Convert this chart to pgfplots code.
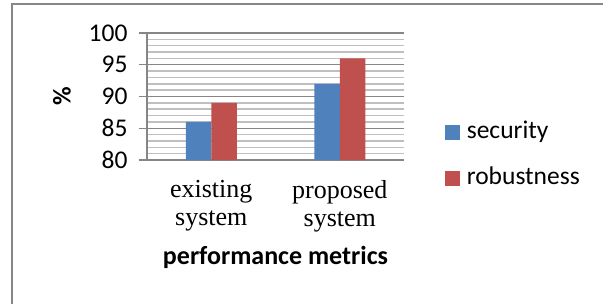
\documentclass[border=0pt]{standalone}
\usepackage{pgfplots}
\pgfplotsset{compat=1.18}
\usepackage{fontspec}
\setmainfont{Carlito}
\newfontfamily\timesf{Liberation Serif}
\definecolor{sec}{RGB}{79,129,189}
\definecolor{rob}{RGB}{192,80,77}
\definecolor{majg}{RGB}{134,134,134}
\definecolor{ming}{RGB}{191,191,191}
\begin{document}
\begin{tikzpicture}
\path[use as bounding box] (0bp,0bp) rectangle (603bp,-304bp);
\draw[majg, line width=1.5bp] (12bp,-310bp) -- (12bp,-4bp) -- (610bp,-4bp);
\begin{axis}[
  at={(147bp,-160bp)}, anchor=south west,
  scale only axis, width=257bp, height=127bp,
  ymin=80, ymax=100, ytick={80,85,90,95,100},
  minor ytick={81,82,83,84,86,87,88,89,91,92,93,94,96,97,98,99},
  xmin=-0.5, xmax=1.5, xtick={0,1},
  xticklabels={existing\\system, proposed\\system},
  axis x line=bottom, axis y line=left,
  axis line style={majg, line width=1.8bp, -},
  ymajorgrids, yminorgrids,
  major grid style={majg, line width=1.2bp},
  minor grid style={ming, line width=1.5bp},
  ytick style={majg, line width=1.2bp},
  ytick align=outside, major tick length=8bp, minor tick length=0pt,
  xtick style={draw=none},
  ticklabel style={font=\fontsize{25.5bp}{28bp}\selectfont},
  yticklabel style={xshift=-8bp},
  xticklabel style={font=\timesf\fontsize{26bp}{28bp}\selectfont, align=center, yshift=-9bp},
  ylabel={\textbf{\%}},
  ylabel style={font=\fontsize{25.5bp}{28bp}\selectfont, at={(axis description cs:-0.331,0.5)}, anchor=center},
  xlabel={\textbf{performance metrics}},
  xlabel style={font=\fontsize{26bp}{28bp}\selectfont, at={(axis description cs:0.5,-0.764)}, anchor=center},
  ybar=0pt, bar width=25.5bp,
  legend style={at={(axis description cs:1.158,0.039)}, anchor=west, draw=none, fill=none,
    inner sep=0pt, row sep=24bp,
    font=\fontsize{25.5bp}{28bp}\selectfont,
    nodes={text height=17bp, text depth=5bp, inner sep=0pt, anchor=west}},
  legend image code/.code={\fill[#1] (0bp,-7.5bp) rectangle (15bp,7.5bp);},
  legend cell align=left,
  /pgf/number format/assume math mode=true,
]
\addplot[fill=sec, draw=none] coordinates {(0,86) (1,92)};
\addlegendentry{\hspace{7bp}security}
\addplot[fill=rob, draw=none] coordinates {(0,89) (1,96)};
\addlegendentry{\hspace{7bp}robustness}
\end{axis}
\end{tikzpicture}
\end{document}
